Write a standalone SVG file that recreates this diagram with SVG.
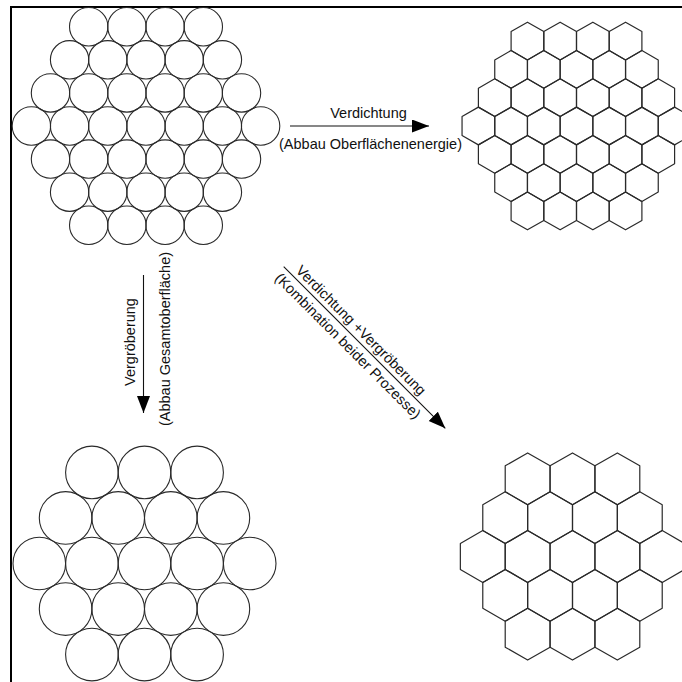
<svg xmlns="http://www.w3.org/2000/svg" xmlns:xlink="http://www.w3.org/1999/xlink" width="682" height="682" viewBox="0 0 682 682">
<style>
  .c { fill: none; stroke: #2a2a2a; stroke-width: 1.1; }
  .h { fill: none; stroke: #2a2a2a; stroke-width: 1.2; stroke-linejoin: round; }
  .frame { fill: none; stroke: #000; stroke-width: 2; }
  .con { fill: none; stroke: #111; stroke-width: 1.1; }
  text { font-family: "Liberation Sans", Arial, sans-serif; font-size: 14.5px; fill: #111; text-anchor: middle; }
</style>
<defs>
  <circle id="cs" r="19.2" class="c"/>
  <circle id="cl" r="26.3" class="c"/>
  <polygon id="hs" class="h" points="0,-18.88 16.35,-9.44 16.35,9.44 0,18.88 -16.35,9.44 -16.35,-9.44"/>
  <polygon id="hl" class="h" points="0,-25.9 22.43,-12.95 22.43,12.95 0,25.9 -22.43,12.95 -22.43,-12.95"/>
  <marker id="arr" markerUnits="userSpaceOnUse" markerWidth="18" markerHeight="14" refX="17" refY="6.5" orient="auto">
    <path d="M0,0 L17,6.5 L0,13 Z" fill="#000"/>
  </marker>
</defs>
<rect width="682" height="682" fill="#fff"/>
<path class="frame" d="M11,682 V7 H682"/>

<g id="small-circles">
  <use xlink:href="#cs" x="88.7" y="26.76"/><use xlink:href="#cs" x="126.9" y="26.76"/><use xlink:href="#cs" x="165.1" y="26.76"/><use xlink:href="#cs" x="203.3" y="26.76"/>
  <use xlink:href="#cs" x="69.6" y="59.84"/><use xlink:href="#cs" x="107.8" y="59.84"/><use xlink:href="#cs" x="146" y="59.84"/><use xlink:href="#cs" x="184.2" y="59.84"/><use xlink:href="#cs" x="222.4" y="59.84"/>
  <use xlink:href="#cs" x="50.5" y="92.92"/><use xlink:href="#cs" x="88.7" y="92.92"/><use xlink:href="#cs" x="126.9" y="92.92"/><use xlink:href="#cs" x="165.1" y="92.92"/><use xlink:href="#cs" x="203.3" y="92.92"/><use xlink:href="#cs" x="241.5" y="92.92"/>
  <use xlink:href="#cs" x="31.4" y="126"/><use xlink:href="#cs" x="69.6" y="126"/><use xlink:href="#cs" x="107.8" y="126"/><use xlink:href="#cs" x="146" y="126"/><use xlink:href="#cs" x="184.2" y="126"/><use xlink:href="#cs" x="222.4" y="126"/><use xlink:href="#cs" x="260.6" y="126"/>
  <use xlink:href="#cs" x="50.5" y="159.08"/><use xlink:href="#cs" x="88.7" y="159.08"/><use xlink:href="#cs" x="126.9" y="159.08"/><use xlink:href="#cs" x="165.1" y="159.08"/><use xlink:href="#cs" x="203.3" y="159.08"/><use xlink:href="#cs" x="241.5" y="159.08"/>
  <use xlink:href="#cs" x="69.6" y="192.16"/><use xlink:href="#cs" x="107.8" y="192.16"/><use xlink:href="#cs" x="146" y="192.16"/><use xlink:href="#cs" x="184.2" y="192.16"/><use xlink:href="#cs" x="222.4" y="192.16"/>
  <use xlink:href="#cs" x="88.7" y="225.24"/><use xlink:href="#cs" x="126.9" y="225.24"/><use xlink:href="#cs" x="165.1" y="225.24"/><use xlink:href="#cs" x="203.3" y="225.24"/>
</g>

<g id="small-hexagons">
  <use xlink:href="#hs" x="527.45" y="41.04"/><use xlink:href="#hs" x="560.15" y="41.04"/><use xlink:href="#hs" x="592.85" y="41.04"/><use xlink:href="#hs" x="625.55" y="41.04"/>
  <use xlink:href="#hs" x="511.1" y="69.36"/><use xlink:href="#hs" x="543.8" y="69.36"/><use xlink:href="#hs" x="576.5" y="69.36"/><use xlink:href="#hs" x="609.2" y="69.36"/><use xlink:href="#hs" x="641.9" y="69.36"/>
  <use xlink:href="#hs" x="494.75" y="97.68"/><use xlink:href="#hs" x="527.45" y="97.68"/><use xlink:href="#hs" x="560.15" y="97.68"/><use xlink:href="#hs" x="592.85" y="97.68"/><use xlink:href="#hs" x="625.55" y="97.68"/><use xlink:href="#hs" x="658.25" y="97.68"/>
  <use xlink:href="#hs" x="478.4" y="126"/><use xlink:href="#hs" x="511.1" y="126"/><use xlink:href="#hs" x="543.8" y="126"/><use xlink:href="#hs" x="576.5" y="126"/><use xlink:href="#hs" x="609.2" y="126"/><use xlink:href="#hs" x="641.9" y="126"/><use xlink:href="#hs" x="674.6" y="126"/>
  <use xlink:href="#hs" x="494.75" y="154.32"/><use xlink:href="#hs" x="527.45" y="154.32"/><use xlink:href="#hs" x="560.15" y="154.32"/><use xlink:href="#hs" x="592.85" y="154.32"/><use xlink:href="#hs" x="625.55" y="154.32"/><use xlink:href="#hs" x="658.25" y="154.32"/>
  <use xlink:href="#hs" x="511.1" y="182.64"/><use xlink:href="#hs" x="543.8" y="182.64"/><use xlink:href="#hs" x="576.5" y="182.64"/><use xlink:href="#hs" x="609.2" y="182.64"/><use xlink:href="#hs" x="641.9" y="182.64"/>
  <use xlink:href="#hs" x="527.45" y="210.96"/><use xlink:href="#hs" x="560.15" y="210.96"/><use xlink:href="#hs" x="592.85" y="210.96"/><use xlink:href="#hs" x="625.55" y="210.96"/>
</g>

<g id="large-circles">
  <use xlink:href="#cl" x="91.9" y="472.4"/><use xlink:href="#cl" x="144.5" y="472.4"/><use xlink:href="#cl" x="197.1" y="472.4"/>
  <use xlink:href="#cl" x="65.6" y="517.95"/><use xlink:href="#cl" x="118.2" y="517.95"/><use xlink:href="#cl" x="170.8" y="517.95"/><use xlink:href="#cl" x="223.4" y="517.95"/>
  <use xlink:href="#cl" x="39.3" y="563.5"/><use xlink:href="#cl" x="91.9" y="563.5"/><use xlink:href="#cl" x="144.5" y="563.5"/><use xlink:href="#cl" x="197.1" y="563.5"/><use xlink:href="#cl" x="249.7" y="563.5"/>
  <use xlink:href="#cl" x="65.6" y="609.05"/><use xlink:href="#cl" x="118.2" y="609.05"/><use xlink:href="#cl" x="170.8" y="609.05"/><use xlink:href="#cl" x="223.4" y="609.05"/>
  <use xlink:href="#cl" x="91.9" y="654.6"/><use xlink:href="#cl" x="144.5" y="654.6"/><use xlink:href="#cl" x="197.1" y="654.6"/>
</g>

<g id="large-hexagons">
  <use xlink:href="#hl" x="527.64" y="478.8"/><use xlink:href="#hl" x="572.5" y="478.8"/><use xlink:href="#hl" x="617.36" y="478.8"/>
  <use xlink:href="#hl" x="505.21" y="517.65"/><use xlink:href="#hl" x="550.07" y="517.65"/><use xlink:href="#hl" x="594.93" y="517.65"/><use xlink:href="#hl" x="639.79" y="517.65"/>
  <use xlink:href="#hl" x="482.78" y="556.5"/><use xlink:href="#hl" x="527.64" y="556.5"/><use xlink:href="#hl" x="572.5" y="556.5"/><use xlink:href="#hl" x="617.36" y="556.5"/><use xlink:href="#hl" x="662.22" y="556.5"/>
  <use xlink:href="#hl" x="505.21" y="595.35"/><use xlink:href="#hl" x="550.07" y="595.35"/><use xlink:href="#hl" x="594.93" y="595.35"/><use xlink:href="#hl" x="639.79" y="595.35"/>
  <use xlink:href="#hl" x="527.64" y="634.2"/><use xlink:href="#hl" x="572.5" y="634.2"/><use xlink:href="#hl" x="617.36" y="634.2"/>
</g>

<g id="connectors">
  <line class="con" x1="290" y1="126" x2="429" y2="126" marker-end="url(#arr)"/>
  <line class="con" x1="143.5" y1="275" x2="143.5" y2="413" marker-end="url(#arr)"/>
  <line class="con" x1="283.7" y1="266.7" x2="445.3" y2="428.3" marker-end="url(#arr)"/>
  <text x="368.5" y="117.5">Verdichtung</text>
  <text x="370.5" y="149">(Abbau Oberflächenenergie)</text>
  <text transform="translate(135,342) rotate(-90)">Vergröberung</text>
  <text transform="translate(169.5,339) rotate(-90)">(Abbau Gesamtoberfläche)</text>
  <g transform="translate(283.7,266.7) rotate(45)">
    <text x="99.6" y="-4.8">Verdichtung +Vergröberung</text>
    <text x="101.5" y="15.5">(Kombination beider Prozesse)</text>
  </g>
</g>
</svg>
